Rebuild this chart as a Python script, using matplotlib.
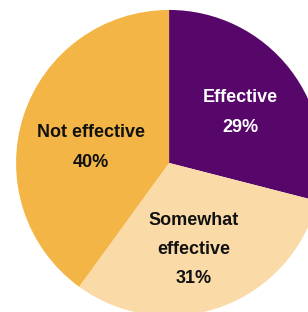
import matplotlib
matplotlib.use('Agg')
import matplotlib.pyplot as plt

# Chart data
categories = ['Effective', 'Somewhat\neffective', 'Not effective']
shares = [29, 31, 40]
colors = ['#57066A', '#FADBA8', '#F3B545']
text_colors = ['white', '#111111', '#111111']

# label centres (pie radius = 1), placed by hand like the original
label_pos = [(0.464, 0.330), (0.163, -0.565), (-0.51, 0.101)]

fig = plt.figure(figsize=(3.08, 3.12), dpi=100)
ax = fig.add_axes([0, 0, 1, 1])

labels = [f"{c}\n{v}%" for c, v in zip(categories, shares)]
wedges, texts = ax.pie(shares, colors=colors, startangle=90, counterclock=False,
                       labels=labels, labeldistance=0.56,
                       wedgeprops=dict(linewidth=0),
                       textprops=dict(fontsize=13, fontweight='bold',
                                      family='Liberation Sans', ha='center', va='center'))
for t, c, p in zip(texts, text_colors, label_pos):
    t.set_color(c)
    t.set_linespacing(1.95)
    t.set_ha('center')
    t.set_va('center')
    t.set_position(p)

# pie is cropped on the right and bottom in the original
ax.set_xlim(-1.105, 0.908)
ax.set_ylim(-0.974, 1.065)
ax.set_aspect('auto')
ax.axis('off')

fig.savefig('out.png', dpi=100)
